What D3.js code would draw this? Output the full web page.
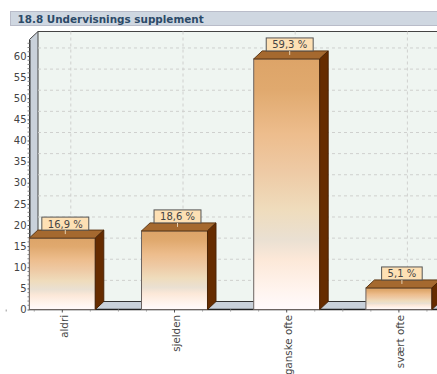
<!DOCTYPE html>
<html><head><meta charset="utf-8">
<script src="https://cdn.jsdelivr.net/npm/d3@7"></script>
<style>html,body{margin:0;padding:0;background:#fff;overflow:hidden}svg{display:block}text{font-family:"DejaVu Sans",sans-serif}</style>
</head><body><svg id="c" width="437" height="374"></svg>
<script>
const titleText = "18.8 Undervisnings supplement";
const categories = ["aldri","sjelden","ganske ofte","svært ofte"];
const values = [16.9,18.6,59.3,5.1];
const valueLabels = ["16,9 %","18,6 %","59,3 %","5,1 %"];
const majorTicks = [0,5,10,15,20,25,30,35,40,45,50,55,60];
const minorTicks = [1,2,3,4,6,7,8,9,11,12,13,14,16,17,18,19,21,22,23,24,26,27,28,29,31,32,33,34,36,37,38,39,41,42,43,44,46,47,48,49,51,52,53,54,56,57,58,59,61,62,63];
const dx = 8.5, dy = 8;
const svg = d3.select("#c");
const y = d3.scaleLinear().domain([0,63.9]).range([309.5,39.5]);
const x = d3.scaleBand().domain(categories).range([6.2,455]).paddingInner(0.412).paddingOuter(0.206);
const left = 29.5, right = 437;

const defs = svg.append("defs");
const stops = [[0,"#dda468"],[.12,"#e0a96e"],[.3,"#edbd8d"],[.45,"#eecaa5"],[.6,"#efdcbc"],[.72,"#eae0d2"],[.8,"#fce8d8"],[.92,"#fff4ee"],[1,"#fffafc"]];
const g = defs.append("linearGradient").attr("id","barG").attr("x1",0).attr("x2",0).attr("y1",0).attr("y2",1);
g.selectAll("stop").data(stops).join("stop").attr("offset",d=>d[0]).attr("stop-color",d=>d[1]);

// title
svg.append("rect").attr("x",10.5).attr("y",11.5).attr("width",430).attr("height",14).attr("fill","#cfd7e1").attr("stroke","#b9bcc9");
svg.append("text").attr("x",17.5).attr("y",23).attr("font-size",10.4).attr("font-weight","bold").attr("fill","#2c4a68").text(titleText);

// back wall
svg.append("rect").attr("x",left+dx).attr("y",y.range()[1]-dy).attr("width",right-left).attr("height",y(0)-y.range()[1]).attr("fill","#eff5f1");
// left wall
svg.append("path").attr("d",`M${left},${y(0)}L${left+dx},${y(0)-dy}L${left+dx},${y.range()[1]-dy}L${left},${y.range()[1]}Z`).attr("fill","#c9d1da").attr("stroke","#444").attr("stroke-width",1);
// floor
svg.append("path").attr("d",`M${left},${y(0)}L${left+dx},${y(0)-dy}L${right+dx},${y(0)-dy}L${right},${y(0)}Z`).attr("fill","#c9d1da").attr("stroke","#333").attr("stroke-width",1);
// top line
svg.append("line").attr("x1",left+dx).attr("x2",right).attr("y1",y.range()[1]-dy).attr("y2",y.range()[1]-dy).attr("stroke","#444");
// grid
svg.selectAll(".gh").data(majorTicks.slice(1)).join("line").attr("x1",left+dx).attr("x2",right).attr("y1",d=>y(d)-dy).attr("y2",d=>y(d)-dy).attr("stroke","#cfd0ce").attr("stroke-dasharray","3 3");
svg.selectAll(".gv").data(categories).join("line").attr("x1",d=>x(d)+x.bandwidth()/2+dx).attr("x2",d=>x(d)+x.bandwidth()/2+dx).attr("y1",y.range()[1]-dy).attr("y2",y(0)-dy).attr("stroke","#cfd0ce").attr("stroke-dasharray","3 3");

// y axis
const ax = svg.append("g").attr("transform",`translate(${left},0)`);
ax.call(d3.axisLeft(y).tickValues(majorTicks).tickSize(2).tickSizeOuter(0).tickPadding(1).tickFormat(d3.format("d")));
ax.select(".domain").attr("stroke","#333");
ax.selectAll("text").attr("font-size",10).attr("fill","#444").style("font-family",'"DejaVu Sans"');
ax.selectAll("line").attr("stroke","#555");
svg.selectAll(".minor").data(minorTicks).join("line").attr("x1",left-2).attr("x2",left).attr("y1",d=>y(d)).attr("y2",d=>y(d)).attr("stroke","#888");

// x axis baseline + ticks
const step = x.step();
const xa = svg.append("g").attr("transform",`translate(0,${y(0)})`);
xa.call(d3.axisBottom(x).tickSize(3).tickFormat(""));
xa.select(".domain").remove();
xa.selectAll("line").attr("stroke","#555");
svg.append("line").attr("x1",left).attr("x2",right).attr("y1",y(0)).attr("y2",y(0)).attr("stroke","#222").attr("stroke-width",1.5);
const minorX = categories.flatMap(c=>[-.5,-.25,.25].map(f=>x(c)+x.bandwidth()/2+f*step));
svg.selectAll(".mx").data(minorX).join("line").attr("x1",d=>d).attr("x2",d=>d).attr("y1",y(0)).attr("y2",y(0)+2).attr("stroke","#999");
svg.selectAll(".cat").data(categories).join("text").attr("font-size",10.3).attr("fill","#444").attr("text-anchor","end")
  .attr("transform",d=>`translate(${x(d)+x.bandwidth()/2+5.5},${y(0)+5.5}) rotate(-90)`).text(d=>d);

// bars
const data = categories.map((c,i)=>({c,v:values[i],l:valueLabels[i]}));
const bars = svg.selectAll(".bar").data(data).join("g").attr("class","bar");
const bw = x.bandwidth();
bars.append("rect").attr("x",d=>x(d.c)).attr("y",d=>y(d.v)).attr("width",bw).attr("height",d=>y(0)-y(d.v)).attr("fill","url(#barG)").attr("stroke","#6b6360").attr("stroke-width",1);
bars.append("path").attr("d",d=>{const a=x(d.c),t=y(d.v);return `M${a},${t}L${a+dx},${t-dy}L${a+bw+dx},${t-dy}L${a+bw},${t}Z`}).attr("fill","#a5692f").attr("stroke","#5f3a18").attr("stroke-width",1);
bars.append("path").attr("d",d=>{const a=x(d.c)+bw,t=y(d.v),b=y(0);return `M${a},${t}L${a+dx},${t-dy}L${a+dx},${b-dy}L${a},${b}Z`}).attr("fill","#662c00").attr("stroke","#4a2406").attr("stroke-width",1);
// value labels
const lh = 13, off = 3;
const lr = bars.append("rect").attr("y",d=>y(d.v)-dy-lh).attr("height",lh).attr("fill","#fde0b4").attr("stroke","#555");
bars.append("line").attr("x1",d=>x(d.c)+bw/2+off).attr("x2",d=>x(d.c)+bw/2+off).attr("y1",d=>y(d.v)-dy).attr("y2",d=>y(d.v)-dy+4).attr("stroke","#e6d0b0");
const lt = bars.append("text").attr("x",d=>x(d.c)+bw/2+off).attr("y",d=>y(d.v)-dy-2.5).attr("text-anchor","middle").attr("font-size",10).attr("fill","#444").text(d=>d.l);
lt.each(function(d){d.w=this.getComputedTextLength()+12;});
lr.attr("x",d=>x(d.c)+bw/2+off-d.w/2).attr("width",d=>d.w);
</script></body></html>
